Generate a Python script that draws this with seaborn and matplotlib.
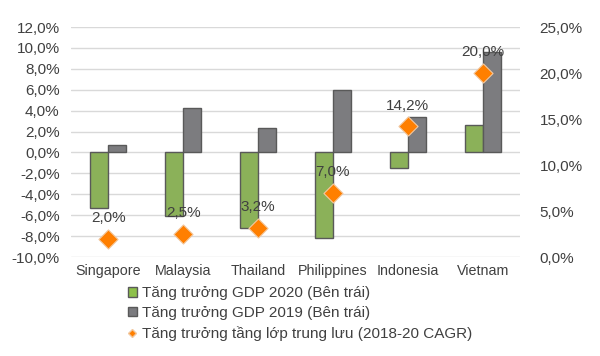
import numpy as np
import pandas as pd
import matplotlib
matplotlib.use("Agg")
import matplotlib.pyplot as plt
from matplotlib.ticker import FuncFormatter, MultipleLocator
from matplotlib.patches import Patch
from matplotlib.lines import Line2D
import seaborn as sns

# data
countries = ["Singapore", "Malaysia", "Thailand", "Philippines", "Indonesia", "Vietnam"]
gdp_2020 = [-5.3, -6.1, -7.2, -8.2, -1.5, 2.6]
gdp_2019 = [0.7, 4.3, 2.3, 6.0, 3.4, 9.6]
middle_class_cagr = [2.0, 2.5, 3.2, 7.0, 14.2, 20.0]

label_2020 = "Tăng trưởng GDP 2020 (Bên trái)"
label_2019 = "Tăng trưởng GDP 2019 (Bên trái)"
label_cagr = "Tăng trưởng tầng lớp trung lưu (2018-20 CAGR)"

green = "#8DC04A"
grey = "#7B7B7F"
orange = "#FF7F00"
edge = "#595959"
text_col = "#404040"

sns.set_theme(style="white")
plt.rcParams["font.family"] = ["Liberation Sans", "DejaVu Sans"]

df = pd.DataFrame({
    "country": countries * 2,
    "value": gdp_2020 + gdp_2019,
    "series": [label_2020] * len(countries) + [label_2019] * len(countries),
})

fig = plt.figure(figsize=(6.0, 3.56), dpi=100)
ax = fig.add_axes([0.118, 0.278, 0.749, 0.646])

sns.barplot(data=df, x="country", y="value", hue="series", order=countries,
            palette=[green, grey], width=0.48, gap=0, edgecolor=edge,
            linewidth=1.0, legend=False, ax=ax)

ax.set_ylim(-10, 12)
ax.yaxis.set_major_locator(MultipleLocator(2))
pct = FuncFormatter(lambda v, _: f"{v:.1f}%".replace(".", ","))
ax.yaxis.set_major_formatter(pct)
ax.grid(axis="y", color="#D9D9D9", linewidth=1.0)
ax.set_axisbelow(True)
ax.set_xlabel("")
ax.set_ylabel("")
ax.tick_params(axis="y", labelsize=11, labelcolor=text_col, length=0, pad=8)
ax.tick_params(axis="x", labelsize=10.3, labelcolor=text_col, length=0, pad=5)
for s in ax.spines.values():
    s.set_visible(False)

ax2 = ax.twinx()
xpos = np.arange(len(countries))
sns.scatterplot(x=xpos, y=middle_class_cagr, marker="D", s=95, color=orange,
                edgecolor="#F2C8A0", linewidth=0.8, zorder=5, legend=False, ax=ax2)
ax2.set_ylim(0, 25)
ax2.yaxis.set_major_locator(MultipleLocator(5))
ax2.yaxis.set_major_formatter(pct)
ax2.tick_params(axis="y", labelsize=11, labelcolor=text_col, length=0, pad=14)
ax2.set_ylabel("")
for s in ax2.spines.values():
    s.set_visible(False)
ax.set_xlim(-0.5, len(countries) - 0.5)

for x, v in zip(xpos, middle_class_cagr):
    ax2.annotate(f"{v:.1f}%".replace(".", ","), (x, v), xytext=(0, 10),
                 textcoords="offset points", ha="center", va="bottom",
                 fontsize=11, color=text_col, zorder=6)

handles = [
    Patch(facecolor=green, edgecolor=edge, linewidth=1.0),
    Patch(facecolor=grey, edgecolor=edge, linewidth=1.0),
    Line2D([], [], marker="D", linestyle="none", markersize=4,
           markerfacecolor=orange, markeredgecolor="#F2C8A0"),
]
fig.legend(handles, [label_2020, label_2019, label_cagr],
           loc="upper left", bbox_to_anchor=(0.213, 0.196), frameon=False,
           fontsize=11, labelcolor=text_col, handlelength=0.6, handleheight=0.6,
           handletextpad=0.3, labelspacing=0.38, borderpad=0, borderaxespad=0)

fig.savefig("out.png", dpi=100, facecolor="white")
